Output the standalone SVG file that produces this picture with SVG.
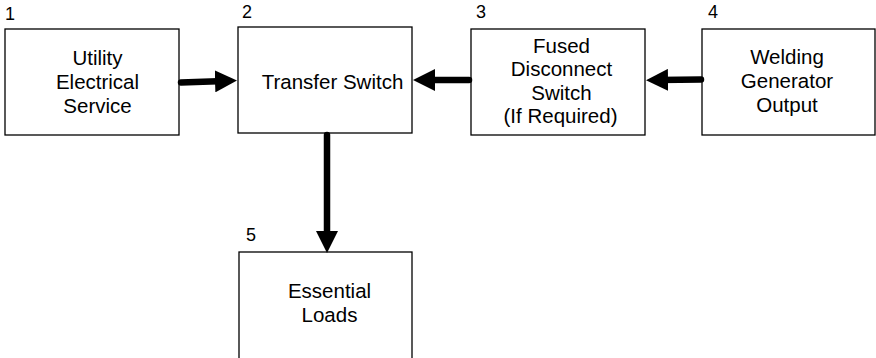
<svg xmlns="http://www.w3.org/2000/svg" width="876" height="358" viewBox="0 0 876 358">
<style>
.box{fill:#fff;stroke:#000;stroke-width:1.3}
.t{font-family:"Liberation Sans",Arial,sans-serif;font-size:20.5px;fill:#000;text-anchor:middle}
.n{font-family:"Liberation Sans",Arial,sans-serif;font-size:18px;fill:#000}
.c{stroke:#000;stroke-width:6.5;fill:none;stroke-linecap:round}
</style>
<defs>
<marker id="ah" markerUnits="userSpaceOnUse" viewBox="0 0 22 22" refX="10" refY="11" markerWidth="22" markerHeight="22" orient="auto">
<path d="M0,0 L22,11 L0,22 Z" fill="#000"/>
</marker>
</defs>
<rect width="876" height="358" fill="#fff"/>
<g id="node1">
<rect class="box" x="5" y="29" width="174" height="106"/>
<text class="n" x="5" y="20">1</text>
<text class="t" x="97.5" y="65">Utility</text>
<text class="t" x="97.5" y="89">Electrical</text>
<text class="t" x="97.5" y="113">Service</text>
</g>
<g id="node2">
<rect class="box" x="238" y="27" width="174" height="106"/>
<text class="n" x="242" y="18">2</text>
<text class="t" x="332.5" y="89">Transfer Switch</text>
</g>
<g id="node3">
<rect class="box" x="471" y="29" width="174" height="106"/>
<text class="n" x="476" y="18">3</text>
<text class="t" x="561.5" y="53">Fused</text>
<text class="t" x="561.5" y="76">Disconnect</text>
<text class="t" x="561.5" y="100">Switch</text>
<text class="t" x="560.5" y="123">(If Required)</text>
</g>
<g id="node4">
<rect class="box" x="702" y="29" width="173" height="106"/>
<text class="n" x="708" y="18">4</text>
<text class="t" x="787" y="64">Welding</text>
<text class="t" x="787" y="88">Generator</text>
<text class="t" x="787" y="112">Output</text>
</g>
<g id="node5">
<rect class="box" x="239" y="252" width="173" height="110"/>
<text class="n" x="246" y="241">5</text>
<text class="t" x="329.5" y="298">Essential</text>
<text class="t" x="329.5" y="322">Loads</text>
</g>
<g id="connectors">
<line class="c" x1="181" y1="82.5" x2="225" y2="81" marker-end="url(#ah)"/>
<line class="c" x1="469" y1="80" x2="425" y2="80" marker-end="url(#ah)"/>
<line class="c" x1="701" y1="79.5" x2="658" y2="80" marker-end="url(#ah)"/>
<line class="c" x1="327" y1="135" x2="327" y2="241" marker-end="url(#ah)"/>
</g>
</svg>
